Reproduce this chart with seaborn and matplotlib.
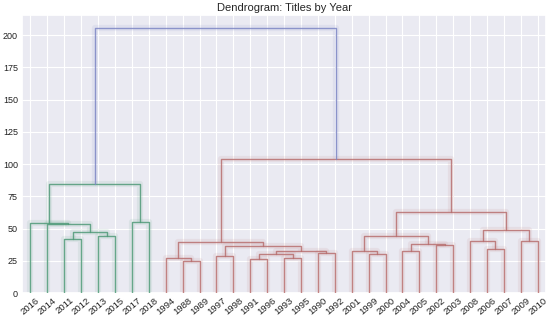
import numpy as np
import matplotlib
matplotlib.use("Agg")
import matplotlib.pyplot as plt
import seaborn as sns

# ---- data -------------------------------------------------------------
leaf_labels = ["2016", "2014", "2011", "2012", "2013", "2015", "2017", "2018",
               "1994", "1988", "1989", "1997", "1998", "1991", "1996", "1993",
               "1995", "1990", "1992", "2001", "1999", "2000", "2004", "2005",
               "2002", "2003", "2008", "2006", "2007", "2009", "2010"]

# linkage-like merges: cluster ids 0..30 are leaves (display order),
# merge k creates cluster id 31 + k
merge_a = [2, 4, 31, 1, 0, 6, 35,
           9, 8, 11, 13, 15, 41, 17, 43, 40, 39,
           20, 19, 22, 24, 50, 49, 27, 26, 29, 55, 53, 47, 37]
merge_b = [3, 5, 32, 33, 34, 7, 36,
           10, 38, 12, 14, 16, 42, 18, 44, 45, 46,
           21, 48, 23, 25, 51, 52, 28, 54, 30, 56, 57, 58, 59]
merge_h = [42.0, 44.5, 47.5, 53.3, 54.3, 54.8, 84.5,
           24.8, 26.9, 28.7, 26.1, 26.9, 30.2, 30.7, 32.6, 36.4, 39.8,
           30.0, 32.8, 32.8, 37.6, 37.9, 44.4, 34.4, 40.0, 40.6, 49.1, 62.5, 104.0, 205.5]

yticks = [0, 25, 50, 75, 100, 125, 150, 175, 200]
title = "Dendrogram: Titles by Year"

# ---- layout ------------------------------------------------------------
sns.set_theme(style="darkgrid")
plt.rcParams["font.family"] = ["Liberation Sans", "DejaVu Sans"]
fig, ax = plt.subplots(figsize=(5.5, 3.21), dpi=100)
fig.subplots_adjust(left=0.04, right=0.993, top=0.954, bottom=0.087)

n = len(leaf_labels)
xpos = {i: 5 + 10 * i for i in range(n)}
hpos = {i: 0.0 for i in range(n)}
children = {}
for k, (a, b, h) in enumerate(zip(merge_a, merge_b, merge_h)):
    cid = n + k
    xpos[cid] = (xpos[a] + xpos[b]) / 2
    hpos[cid] = h
    children[cid] = (a, b)

# scipy-like colouring: subtrees below 0.7*max get a palette colour
thr = 0.7 * max(merge_h)
pal = ["#4f9a78", "#b86f6f"]
above_col = "#7d86c4"
link_col = {}
ci = [0]

def assign(cid, col):
    if cid < n:
        return
    if col is None and hpos[cid] < thr:
        col = pal[ci[0] % len(pal)]
        ci[0] += 1
    link_col[cid] = col if col is not None else above_col
    for c in children[cid]:
        assign(c, col)

root = n + len(merge_h) - 1
assign(root, None)

for cid, (a, b) in children.items():
    xs = [xpos[a], xpos[a], xpos[b], xpos[b]]
    ys = [hpos[a], hpos[cid], hpos[cid], hpos[b]]
    c = link_col[cid]
    ax.plot(xs, ys, color=c, lw=4.5, alpha=0.10, solid_capstyle="butt", zorder=2)
    ax.plot(xs, ys, color=c, lw=1.0, alpha=0.85, zorder=3)

ax.set_xlim(0, 10 * n)
ax.set_ylim(0, max(merge_h) * 1.05)
ax.set_xticks([xpos[i] for i in range(n)])
ax.set_xticklabels(leaf_labels, rotation=40, ha="center", fontsize=6.8)
ax.set_yticks(yticks)
ax.set_yticklabels([str(v) for v in yticks], fontsize=6.5)
ax.tick_params(axis="both", length=0, colors="#222222")
ax.tick_params(axis="x", pad=2)
ax.tick_params(axis="y", pad=3)
ax.grid(True, color="white", lw=0.8)
ax.set_title(title, fontsize=8, pad=3)

fig.savefig("out.png", dpi=100)
